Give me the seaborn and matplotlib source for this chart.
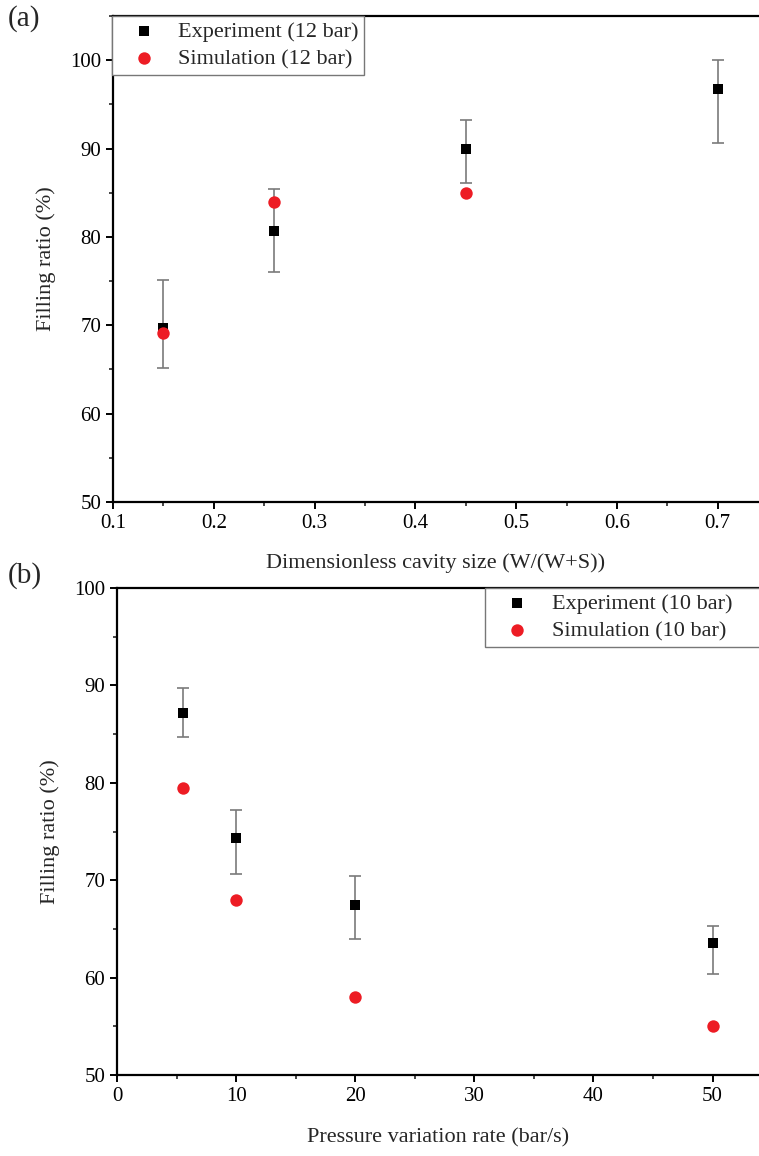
import matplotlib
matplotlib.use("Agg")
import matplotlib.pyplot as plt
import seaborn as sns
import numpy as np
from matplotlib.ticker import MultipleLocator

# ---- data panel (a) ----
a_x = [0.15, 0.26, 0.45, 0.70]
a_exp = [69.7, 80.7, 90.0, 96.7]
a_exp_hi = [75.1, 85.4, 93.2, 100.0]
a_exp_lo = [65.2, 76.0, 86.1, 90.6]
a_sim_x = [0.15, 0.26, 0.45]
a_sim = [69.1, 84.0, 85.0]

# ---- data panel (b) ----
b_x = [5.5, 10, 20, 50]
b_exp = [87.2, 74.3, 67.5, 63.6]
b_exp_hi = [89.7, 77.2, 70.4, 65.3]
b_exp_lo = [84.7, 70.6, 64.0, 60.4]
b_sim = [79.5, 68.0, 58.0, 55.0]

sns.set_style("ticks")
plt.rcParams['font.family'] = ['Liberation Serif', 'DejaVu Serif']
plt.rcParams['mathtext.fontset'] = 'stix'

RED = '#ED1C24'
ERR = '#7a7a7a'

fig = plt.figure(figsize=(7.59, 11.56), dpi=100)
W, H = 759, 1156

def add_axes(left, top, right, bottom):
    return fig.add_axes([left / W, 1 - bottom / H, (right - left) / W, (bottom - top) / H])

axA = add_axes(113, 16, 759, 502)
axB = add_axes(117, 588, 759, 1075)

def style(ax):
    for s in ['left', 'bottom', 'top']:
        ax.spines[s].set_linewidth(1.6)
        ax.spines[s].set_color('black')
    ax.spines['right'].set_visible(False)
    ax.tick_params(axis='both', which='major', direction='out', length=5, width=1.4,
                   labelsize=15, colors='black', top=False, right=False)
    ax.tick_params(axis='both', which='minor', direction='out', length=3, width=1.2,
                   top=False, right=False)
    ax.set_ylabel('Filling ratio (%)', fontsize=16, labelpad=10)

def draw(ax, x, exp, hi, lo, sx, sim, lab_e, lab_s):
    exp = np.array(exp); hi = np.array(hi); lo = np.array(lo)
    ax.errorbar(x, exp, yerr=[exp - lo, hi - exp], fmt='none', ecolor=ERR,
                elinewidth=1.2, capsize=4.5, capthick=1.2, zorder=2)
    sns.scatterplot(x=x, y=exp, marker='s', color='black', s=60, linewidth=0,
                    label=lab_e, ax=ax, zorder=3)
    sns.scatterplot(x=sx, y=sim, marker='o', color=RED, s=80, linewidth=0,
                    label=lab_s, ax=ax, zorder=4)

legkw = dict(borderaxespad=0, fontsize=16, frameon=True, fancybox=False,
             edgecolor='#777777', framealpha=1, handletextpad=0.35, borderpad=0.25,
             labelspacing=0.3, handlelength=2.4)

# panel (a)
draw(axA, a_x, a_exp, a_exp_hi, a_exp_lo, a_sim_x, a_sim,
     'Experiment (12 bar)', 'Simulation (12 bar)')
style(axA)
axA.set_xlim(0.1, 0.741)
axA.set_ylim(50, 105)
axA.xaxis.set_minor_locator(MultipleLocator(0.05))
axA.yaxis.set_major_locator(MultipleLocator(10))
axA.yaxis.set_minor_locator(MultipleLocator(5))
axA.set_xticks([0.1, 0.2, 0.3, 0.4, 0.5, 0.6, 0.7])
axA.set_xticklabels(['0.1', '0.2', '0.3', '0.4', '0.5', '0.6', '0.7'])
axA.set_xlabel('Dimensionless cavity size (W/(W+S))', fontsize=16, labelpad=15)
legA = axA.legend(loc='upper left', bbox_to_anchor=(-0.002, 1.0), **legkw)
legA.get_frame().set_linewidth(1.0)
legA.set_zorder(10)

# panel (b)
draw(axB, b_x, b_exp, b_exp_hi, b_exp_lo, b_x, b_sim,
     'Experiment (10 bar)', 'Simulation (10 bar)')
style(axB)
axB.set_xlim(0, 53.9)
axB.set_ylim(50, 100)
axB.xaxis.set_major_locator(MultipleLocator(10))
axB.xaxis.set_minor_locator(MultipleLocator(5))
axB.yaxis.set_major_locator(MultipleLocator(10))
axB.yaxis.set_minor_locator(MultipleLocator(5))
axB.set_xlabel('Pressure variation rate (bar/s)', fontsize=16, labelpad=16)
x0 = (485 - 117) / (759 - 117)
legB = axB.legend(loc='upper left', bbox_to_anchor=(x0, 0.0, 1.05 - x0, 1.0),
                  mode='expand', **legkw)
legB.get_frame().set_linewidth(1.0)

fig.text(8 / W, 1 - 5 / H, '(a)', fontsize=21, va='top', ha='left')
fig.text(8 / W, 1 - 562 / H, '(b)', fontsize=21, va='top', ha='left')

fig.savefig('out.png', dpi=100)
